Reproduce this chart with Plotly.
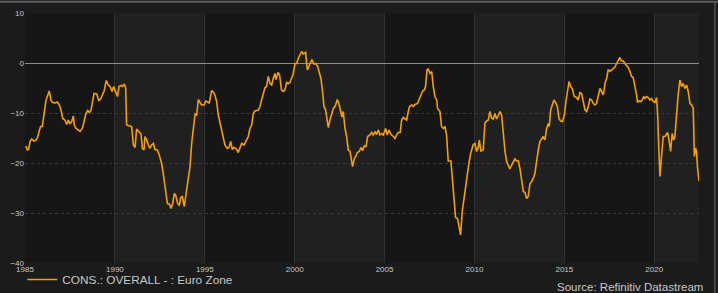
import plotly.graph_objects as go

years = [
    1985.04, 1985.13, 1985.20, 1985.28, 1985.37, 1985.50, 1985.59, 1985.69, 1985.80, 1985.87,
    1985.96, 1986.02, 1986.08, 1986.17, 1986.24, 1986.35, 1986.45, 1986.54, 1986.67, 1986.80,
    1986.91, 1987.00, 1987.10, 1987.22, 1987.32, 1987.41, 1987.50, 1987.60, 1987.69, 1987.74,
    1987.84, 1987.97, 1988.06, 1988.19, 1988.28, 1988.39, 1988.49, 1988.58, 1988.67, 1988.76,
    1988.84, 1988.99, 1989.10, 1989.21, 1989.32, 1989.41, 1989.52, 1989.63, 1989.73, 1989.84,
    1989.93, 1990.04, 1990.14, 1990.23, 1990.34, 1990.43, 1990.52, 1990.60, 1990.65, 1990.84,
    1990.93, 1991.03, 1991.12, 1991.21, 1991.32, 1991.45, 1991.53, 1991.62, 1991.67, 1991.77,
    1991.86, 1991.95, 1992.04, 1992.14, 1992.23, 1992.36, 1992.47, 1992.60, 1992.69, 1992.79,
    1992.92, 1993.03, 1993.12, 1993.21, 1993.31, 1993.38, 1993.49, 1993.58, 1993.66, 1993.75,
    1993.86, 1993.99, 1994.08, 1994.18, 1994.27, 1994.36, 1994.46, 1994.55, 1994.64, 1994.73,
    1994.83, 1994.96, 1995.05, 1995.16, 1995.25, 1995.38, 1995.49, 1995.57, 1995.66, 1995.75,
    1995.85, 1995.94, 1996.03, 1996.12, 1996.25, 1996.35, 1996.44, 1996.53, 1996.62, 1996.74,
    1996.86, 1996.98, 1997.05, 1997.18, 1997.29, 1997.42, 1997.51, 1997.61, 1997.70, 1997.79,
    1997.98, 1998.07, 1998.16, 1998.26, 1998.35, 1998.44, 1998.53, 1998.63, 1998.72, 1998.81,
    1998.90, 1998.96, 1999.07, 1999.16, 1999.27, 1999.37, 1999.46, 1999.55, 1999.65, 1999.74,
    1999.83, 1999.92, 2000.02, 2000.11, 2000.20, 2000.29, 2000.39, 2000.48, 2000.61, 2000.70,
    2000.79, 2000.89, 2000.96, 2001.07, 2001.17, 2001.28, 2001.37, 2001.46, 2001.54, 2001.63,
    2001.72, 2001.80, 2001.87, 2001.96, 2002.06, 2002.15, 2002.26, 2002.37, 2002.46, 2002.56,
    2002.63, 2002.70, 2002.80, 2002.89, 2002.98, 2003.08, 2003.13, 2003.22, 2003.32, 2003.41,
    2003.48, 2003.59, 2003.69, 2003.78, 2003.87, 2003.97, 2004.06, 2004.19, 2004.28, 2004.37,
    2004.47, 2004.56, 2004.65, 2004.74, 2004.84, 2004.93, 2005.06, 2005.15, 2005.24, 2005.36,
    2005.49, 2005.58, 2005.67, 2005.76, 2005.87, 2005.95, 2006.04, 2006.13, 2006.23, 2006.32,
    2006.39, 2006.51, 2006.60, 2006.69, 2006.84, 2006.93, 2007.02, 2007.12, 2007.21, 2007.28,
    2007.36, 2007.43, 2007.53, 2007.62, 2007.71, 2007.80, 2007.90, 2007.95, 2008.08, 2008.17,
    2008.27, 2008.36, 2008.45, 2008.54, 2008.69, 2008.77, 2008.88, 2008.95, 2009.06, 2009.14,
    2009.23, 2009.32, 2009.42, 2009.51, 2009.60, 2009.69, 2009.79, 2009.84, 2009.93, 2010.03,
    2010.12, 2010.21, 2010.27, 2010.36, 2010.49, 2010.58, 2010.64, 2010.77, 2010.86, 2010.95,
    2011.05, 2011.14, 2011.23, 2011.33, 2011.42, 2011.51, 2011.60, 2011.70, 2011.79, 2011.88,
    2011.97, 2012.07, 2012.16, 2012.25, 2012.35, 2012.44, 2012.53, 2012.62, 2012.72, 2012.81,
    2012.90, 2012.99, 2013.09, 2013.18, 2013.27, 2013.36, 2013.46, 2013.55, 2013.64, 2013.73,
    2013.83, 2013.92, 2014.01, 2014.11, 2014.16, 2014.24, 2014.31, 2014.42, 2014.51, 2014.61,
    2014.70, 2014.79, 2014.90, 2015.00, 2015.09, 2015.16, 2015.26, 2015.35, 2015.44, 2015.55,
    2015.68, 2015.77, 2015.87, 2015.96, 2016.05, 2016.15, 2016.24, 2016.33, 2016.42, 2016.52,
    2016.61, 2016.70, 2016.79, 2016.89, 2016.98, 2017.07, 2017.17, 2017.26, 2017.35, 2017.44,
    2017.54, 2017.63, 2017.72, 2017.81, 2017.91, 2018.00, 2018.09, 2018.18, 2018.28, 2018.37,
    2018.46, 2018.55, 2018.65, 2018.74, 2018.83, 2018.92, 2019.02, 2019.07, 2019.16, 2019.25,
    2019.33, 2019.41, 2019.48, 2019.57, 2019.66, 2019.76, 2019.85, 2019.94, 2020.04, 2020.13,
    2020.19, 2020.26, 2020.32, 2020.41, 2020.50, 2020.60, 2020.69, 2020.74, 2020.82, 2020.91,
    2021.00, 2021.08, 2021.15, 2021.24, 2021.33, 2021.43, 2021.52, 2021.61, 2021.71, 2021.80,
    2021.89, 2021.99, 2022.08, 2022.17, 2022.23, 2022.30, 2022.35, 2022.41, 2022.49,
]

confidence = [
    -16.6, -17.4, -17.3, -15.7, -15.2, -15.6, -15.5, -15.0, -13.5, -12.7,
    -12.7, -11.1, -9.7, -7.4, -6.7, -5.6, -7.5, -7.9, -8.0, -7.8,
    -8.4, -9.4, -11.1, -11.4, -12.3, -11.4, -12.2, -11.7, -10.6, -12.4,
    -13.1, -13.4, -13.7, -13.1, -11.7, -10.1, -9.5, -9.9, -9.5, -7.4,
    -6.1, -6.2, -7.5, -7.2, -6.3, -5.5, -3.5, -4.4, -4.7, -5.7,
    -4.7, -5.9, -6.7, -4.7, -4.5, -4.7, -4.2, -5.0, -12.4, -12.6,
    -12.7, -16.4, -16.9, -13.2, -13.7, -14.2, -17.1, -17.4, -14.7, -15.4,
    -16.4, -17.1, -16.4, -16.1, -17.3, -17.4, -18.4, -20.1, -22.1, -25.1,
    -28.1, -28.2, -29.1, -28.1, -26.1, -26.4, -28.1, -28.5, -26.9, -26.7,
    -28.7, -25.4, -23.4, -20.7, -16.1, -12.7, -10.2, -10.4, -7.3, -7.9,
    -8.4, -8.4, -7.6, -7.8, -8.0, -5.5, -5.9, -6.5, -7.7, -10.4,
    -12.1, -13.4, -14.7, -16.4, -17.1, -16.9, -15.7, -17.3, -16.9, -17.1,
    -17.9, -16.9, -16.1, -16.4, -15.7, -14.7, -13.1, -12.4, -10.1, -9.6,
    -9.4, -8.7, -7.4, -6.1, -4.9, -4.7, -2.7, -4.1, -4.4, -3.1,
    -2.1, -3.3, -1.9, -2.4, -5.4, -5.7, -5.4, -3.9, -4.1, -3.9,
    -2.9, -2.1, -0.1, -0.1, 0.9, 1.6, 2.3, 1.8, 2.1, -1.4,
    -0.7, -0.2, 0.7, -0.2, -0.1, -0.7, -1.7, -3.1, -5.4, -8.7,
    -9.4, -11.1, -12.9, -11.4, -10.1, -9.1, -8.6, -7.3, -8.1, -9.7,
    -10.8, -9.7, -13.1, -14.7, -17.4, -17.7, -18.7, -20.7, -19.1, -18.6,
    -17.9, -17.7, -16.9, -17.5, -16.6, -16.7, -14.7, -14.4, -13.9, -14.4,
    -13.7, -14.3, -13.4, -14.4, -14.1, -14.4, -13.1, -14.4, -13.4, -14.3,
    -14.7, -15.1, -14.4, -13.9, -13.9, -11.4, -10.9, -11.1, -11.4, -9.7,
    -8.7, -8.4, -8.7, -8.3, -8.1, -7.2, -6.4, -5.6, -5.4, -4.7,
    -1.4, -1.2, -2.1, -1.7, -4.7, -6.7, -7.4, -9.1, -9.7, -12.7,
    -13.1, -12.7, -14.4, -19.6, -19.6, -23.1, -27.1, -30.9, -31.1, -32.4,
    -34.4, -29.7, -27.1, -23.7, -22.4, -20.1, -18.1, -17.6, -16.3, -16.1,
    -17.7, -16.9, -15.4, -17.6, -17.4, -12.1, -11.7, -11.4, -9.7, -11.0,
    -11.2, -10.1, -11.2, -10.5, -9.7, -10.4, -14.4, -17.7, -19.7, -20.4,
    -21.2, -20.4, -19.9, -19.2, -19.6, -19.6, -21.1, -23.7, -25.7, -25.9,
    -27.1, -26.7, -24.1, -23.7, -23.1, -22.1, -19.1, -17.4, -15.7, -15.1,
    -14.7, -15.4, -13.2, -12.1, -12.7, -9.4, -8.7, -7.4, -7.9, -8.7,
    -11.1, -11.6, -11.7, -10.4, -7.7, -6.1, -3.7, -4.7, -5.1, -6.7,
    -6.9, -7.4, -5.9, -6.1, -7.4, -9.4, -9.7, -8.7, -7.2, -7.4,
    -8.1, -8.4, -8.1, -6.4, -5.1, -5.7, -6.4, -4.1, -3.1, -1.4,
    -1.6, -1.4, -1.1, -0.8, -0.1, 0.6, 1.1, 0.4, 0.4, -0.1,
    -0.4, -0.9, -1.7, -2.7, -2.9, -4.4, -6.4, -7.9, -7.6, -7.7,
    -7.4, -6.7, -7.1, -6.7, -6.9, -7.4, -7.1, -7.7, -7.9, -6.9,
    -10.4, -17.7, -22.7, -18.4, -14.7, -14.7, -14.3, -13.9, -15.4, -17.7,
    -14.1, -15.4, -14.7, -10.4, -6.4, -3.4, -4.7, -4.1, -5.1, -4.4,
    -5.7, -8.1, -8.4, -9.1, -18.7, -17.0, -17.7, -21.1, -23.6,
]

x_ticks = [1985, 1990, 1995, 2000, 2005, 2010, 2015, 2020]
y_ticks = [10, 0, -10, -20, -30, -40]
band_edges = [1985, 1990, 1995, 2000, 2005, 2010, 2015, 2020, 2022.49]
series_name = "CONS.: OVERALL - : Euro Zone"
source_text = "Source: Refinitiv Datastream"

fig = go.Figure()
fig.add_trace(go.Scatter(
    x=years, y=confidence, mode="lines", name=series_name,
    line=dict(color="#F5A000", width=1.6),
))

shapes = []
for i in range(len(band_edges) - 1):
    shapes.append(dict(
        type="rect", xref="x", yref="paper",
        x0=band_edges[i], x1=band_edges[i + 1], y0=0, y1=1,
        fillcolor="#161616" if i % 2 == 0 else "#202020",
        line=dict(width=0), layer="below",
    ))
# frame lines
shapes.append(dict(type="line", xref="paper", yref="paper", x0=-0.04, x1=1.03,
                   y0=1.045, y1=1.045, line=dict(color="#5c5c5c", width=2)))
shapes.append(dict(type="line", xref="paper", yref="paper", x0=1.0235, x1=1.0235,
                   y0=-0.12, y1=1.045, line=dict(color="#4a4a4a", width=2)))
fig.update_layout(shapes=shapes)

fig.update_layout(
    width=718, height=293,
    margin=dict(l=25, r=19, t=13, b=30, autoexpand=False),
    paper_bgcolor="#1b1b1b",
    plot_bgcolor="#181818",
    font=dict(family="Liberation Sans, Arial", color="#c8c8c8"),
    showlegend=True,
    legend=dict(
        x=-0.004, y=-0.008, xanchor="left", yanchor="top",
        orientation="h", bgcolor="rgba(0,0,0,0)",
        font=dict(size=11.8, color="#c8c8c8"),
    ),
    annotations=[dict(
        text=source_text, xref="paper", yref="paper",
        x=1.009, y=-0.094, xanchor="right", yanchor="middle",
        showarrow=False, font=dict(size=11.5, color="#c8c8c8"),
    )],
)

fig.update_xaxes(
    range=[1985, 2022.49], tickvals=x_ticks, ticktext=[str(v) for v in x_ticks],
    showgrid=True, gridcolor="#303030", gridwidth=1,
    zeroline=False, showline=False, ticks="",
    tickfont=dict(size=8, color="#c8c8c8"),
)
fig.update_yaxes(
    range=[-40, 10], tickvals=y_ticks,
    showgrid=True, gridcolor="#3a3a3a", griddash="dot", gridwidth=1,
    zeroline=True, zerolinecolor="#8c8c8c", zerolinewidth=1,
    showline=False, ticks="",
    tickfont=dict(size=8, color="#c8c8c8"),
)

fig.write_html("out.html")
